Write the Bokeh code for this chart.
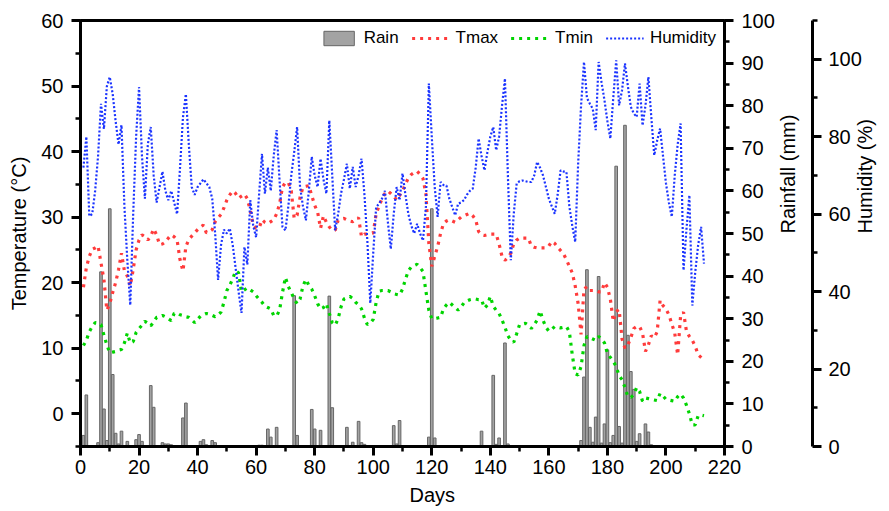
import math
from bokeh.plotting import figure
from bokeh.models import Range1d, LinearAxis, FixedTicker, Legend, LegendItem, Title
from bokeh.embed import file_html
from bokeh.resources import INLINE

# ---------------- data ----------------
days = list(range(1, 214))

tmax = [
    19.3, 22.3, 24.0, 25.1, 25.3, 25.6, 23.0, 20.5, 15.8, 16.8,
    18.5, 20.0, 22.0, 24.5, 21.8, 21.0, 19.5, 22.0, 25.0, 26.5,
    27.3, 27.0, 26.5, 27.1, 28.2, 27.3, 25.8, 25.9, 26.2, 26.8,
    27.3, 27.0, 26.5, 23.5, 21.8, 25.5, 26.6, 27.1, 27.6, 28.1,
    28.5, 28.8, 27.6, 27.8, 28.1, 29.3, 29.9, 30.4, 31.4, 32.6,
    33.4, 34.0, 33.6, 32.9, 33.2, 33.5, 32.8, 31.0, 28.8, 28.3,
    28.3, 29.6, 29.2, 29.0, 29.3, 29.6, 30.5, 32.0, 34.6, 35.3,
    35.3, 34.0, 29.8, 30.3, 33.0, 34.6, 34.7, 34.8, 33.3, 31.8,
    30.8, 28.3, 30.2, 29.2, 28.5, 28.0, 28.0, 29.5, 29.7, 29.8,
    29.6, 29.4, 29.3, 29.6, 29.9, 27.0, 27.4, 27.4, 27.5, 27.6,
    30.5, 31.7, 32.8, 33.6, 34.0, 33.6, 33.2, 32.6, 33.3, 34.0,
    35.0, 36.0, 36.5, 36.8, 37.0, 36.5, 35.9, 33.5, 26.0, 22.5,
    24.0, 25.5, 27.5, 29.0, 29.4, 29.6, 29.4, 29.2, 29.6, 30.0,
    30.2, 30.4, 30.6, 30.2, 29.6, 27.8, 27.3, 27.2, 27.3, 27.4,
    27.4, 27.4, 25.9, 24.0, 23.4, 23.8, 24.5, 25.9, 26.5, 26.8,
    26.8, 26.8, 26.8, 25.6, 25.4, 25.3, 25.3, 25.3, 25.3, 25.6,
    26.3, 26.0, 25.4, 24.9, 24.4, 23.5, 22.5, 21.5, 19.5, 16.8,
    12.1, 19.0, 19.4, 18.8, 18.8, 18.8, 18.6, 18.6, 20.0, 19.3,
    17.5, 14.1, 15.6, 15.9, 11.4, 10.0, 10.5, 11.6, 13.0, 13.3,
    13.3, 12.3, 9.5, 10.5, 11.9, 11.6, 12.5, 17.3, 16.5, 16.0,
    15.1, 13.7, 12.3, 9.0, 14.9, 15.5, 12.6, 11.8, 11.2, 10.3,
    9.0, 8.6, 8.2,
]

tmin = [
    10.4, 11.2, 12.5, 13.3, 13.9, 13.8, 13.6, 12.0, 10.5, 9.3,
    9.4, 9.5, 9.7, 9.8, 10.8, 12.3, 10.8, 11.0, 12.4, 13.0,
    13.5, 14.1, 13.8, 13.4, 14.0, 14.7, 14.8, 15.0, 14.8, 14.5,
    14.2, 15.3, 15.4, 15.1, 15.0, 14.8, 14.7, 14.3, 13.9, 14.4,
    14.9, 15.1, 15.3, 15.2, 15.0, 14.8, 15.1, 15.5, 17.0, 18.8,
    19.6, 20.6, 21.8, 21.5, 18.6, 18.9, 19.2, 18.9, 18.6, 18.0,
    17.5, 17.0, 16.4, 16.2, 16.0, 15.0, 14.9, 15.8, 18.5, 20.8,
    19.4, 18.5, 17.5, 16.8, 17.5, 19.5, 20.5, 19.6, 19.0, 18.0,
    16.8, 16.0, 16.2, 16.8, 15.3, 13.9, 13.5, 14.5, 16.3, 17.5,
    17.7, 17.9, 17.6, 17.0, 16.6, 16.0, 14.6, 13.6, 13.8, 14.4,
    17.0, 18.7, 18.8, 18.8, 18.8, 18.6, 18.3, 18.2, 18.1, 19.0,
    20.5, 21.8, 22.4, 22.6, 22.8, 22.3, 21.7, 18.7, 15.8, 14.5,
    14.5, 14.6, 14.7, 16.0, 16.6, 17.0, 16.6, 16.2, 15.8, 16.3,
    16.9, 17.2, 17.4, 17.5, 17.5, 17.4, 17.4, 16.1, 16.6, 17.9,
    16.4, 15.8, 15.3, 14.3, 13.2, 11.9, 11.2, 10.9, 12.2, 13.6,
    13.7, 13.8, 13.5, 13.0, 13.6, 14.3, 15.7, 14.3, 13.2, 12.6,
    12.9, 13.3, 13.2, 13.1, 13.2, 13.3, 12.5, 9.0, 6.1, 5.9,
    7.2, 10.4, 11.8, 11.6, 11.4, 11.2, 11.8, 11.4, 10.8, 9.2,
    8.6, 8.0, 7.2, 5.8, 5.2, 4.0, 2.6, 2.5, 2.9, 4.0,
    3.4, 1.9, 2.4, 2.3, 2.2, 2.1, 2.0, 3.1, 2.7, 2.2,
    2.1, 2.0, 1.9, 2.6, 3.0, 2.4, 1.3, 0.0, -1.7, -1.7,
    -0.3, -0.2, -0.3,
]

humidity = [
    72, 80, 59.5, 60, 66, 75, 88.5, 82, 93, 95.4,
    91, 84, 78, 83, 62, 48, 36.5, 60, 80, 92.8,
    75, 64, 78, 82.5, 70, 63, 67, 71, 66, 63.6,
    66, 63, 60, 72, 85, 91, 78, 67, 65, 67,
    68, 69, 68, 67, 64, 55, 43, 52, 56, 55,
    56.3, 52, 46, 40, 34.5, 51.5, 47, 63.6, 57, 54,
    65, 75.6, 65.3, 72, 66, 75, 81.7, 68.7, 56.7, 55.8,
    62, 70, 76, 82.5, 67, 62, 58.4, 66, 74.8, 70,
    67, 74.3, 69, 65.3, 84.2, 70, 55.8, 60, 65.3, 69,
    73, 66.6, 72.2, 67, 70, 74.3, 65, 53, 37, 50,
    61.8, 62.7, 64, 66, 58, 51, 60, 67, 63.6, 70.5,
    65, 60, 57, 55, 57.5, 55, 53.2, 62, 93.7, 80,
    67, 59.3, 68.3, 67.5, 67.4, 64, 61.8, 59.7, 62.7, 63,
    63.6, 65, 66, 66.6, 72, 79.5, 75, 71.3, 76, 80,
    82.5, 76.5, 80, 88, 95, 70, 48.1, 60, 67.9, 68.5,
    68.7, 68.5, 68.3, 68.3, 70, 73.5, 72, 70, 67, 64,
    62, 60.1, 65, 71.3, 71, 70.9, 62, 57, 52.8, 73,
    88, 99.3, 90, 88.5, 87.2, 81.7, 99.3, 94, 89.4, 84,
    79.5, 90, 99.7, 88.1, 92, 98.9, 93, 87.7, 86, 85.1,
    93.7, 82.9, 88, 95.4, 85, 75.2, 79, 82.1, 75, 68,
    63, 59.3, 70, 78, 83.4, 45.5, 56, 64.9, 36.4, 45,
    52, 56.7, 47.2,
]

rain_days = [1, 2, 6, 7, 8, 9, 10, 11, 12, 13, 14, 16, 19, 20, 21, 24, 25, 28, 29, 30,
             31, 35, 36, 41, 42, 43, 45, 46, 61, 62, 64, 65, 67, 73, 74, 79, 80, 82, 85, 86,
             91, 93, 95, 96, 97, 107, 108, 109, 119, 120, 121, 137, 141, 142, 143, 145, 146,
             171, 172, 173, 174, 175, 176, 177, 178, 179, 180, 181, 182, 183, 184, 185, 186,
             187, 188, 189, 190, 191, 193, 194, 195]
rain_mm = [2.6, 12.1, 0.9, 41.0, 8.8, 1.4, 55.8, 16.9, 3.1, 0.6, 3.6, 1.2, 1.6, 2.8, 1.2, 14.3, 9.2, 0.9, 0.6, 0.6,
           0.4, 6.7, 10.2, 1.2, 1.6, 0.4, 1.4, 0.9, 0.3, 0.3, 4.1, 2.2, 4.5, 35.4, 2.6, 8.7, 4.1, 3.8, 35.3, 9.1,
           4.5, 1.0, 5.9, 0.9, 0.5, 4.9, 0.6, 6.1, 2.2, 55.8, 2.0, 3.6, 16.7, 0.5, 2.0, 24.3, 0.6,
           1.4, 16.3, 41.5, 4.5, 1.0, 6.9, 39.9, 0.8, 5.3, 22.7, 0.9, 2.6, 65.8, 4.7, 0.8, 75.4,
           26.1, 17.6, 13.4, 1.2, 3.0, 5.3, 3.4, 0.4]

x_ticks = [0, 20, 40, 60, 80, 100, 120, 140, 160, 180, 200, 220]
temp_ticks = [0, 10, 20, 30, 40, 50, 60]
rain_ticks = [0, 10, 20, 30, 40, 50, 60, 70, 80, 90, 100]
hum_ticks = [0, 20, 40, 60, 80, 100]

FONT = "Liberation Sans"

# ---------------- figure ----------------
p = figure(width=889, height=511, x_range=Range1d(0, 220), y_range=Range1d(-5, 60),
           output_backend="svg", toolbar_location=None,
           min_border_left=80, min_border_right=160, min_border_top=20, min_border_bottom=65)
p.extra_y_ranges = {"rain": Range1d(0, 100), "hum": Range1d(0, 110)}
p.xgrid.visible = False
p.ygrid.visible = False
p.outline_line_color = "black"
p.outline_line_width = 3
p.background_fill_color = "white"
p.border_fill_color = "white"


def style_axis(ax, standoff=8):
    ax.axis_line_width = 3
    ax.axis_line_color = "black"
    ax.major_tick_line_width = 3
    ax.major_tick_line_color = "black"
    ax.major_tick_out = 9
    ax.major_tick_in = 0
    ax.minor_tick_line_width = 2.5
    ax.minor_tick_line_color = "black"
    ax.minor_tick_out = 5
    ax.minor_tick_in = 0
    ax.major_label_text_font = FONT
    ax.major_label_text_font_size = "20px"
    ax.major_label_text_color = "black"
    ax.major_label_standoff = standoff
    ax.axis_label_text_font = FONT
    ax.axis_label_text_font_size = "20px"
    ax.axis_label_text_font_style = "normal"
    ax.axis_label_text_color = "black"


xa = p.xaxis[0]
xa.ticker = FixedTicker(ticks=x_ticks, minor_ticks=[10, 30, 50, 70, 90, 110, 130, 150, 170, 190, 210])
style_axis(xa, standoff=4)

ya = p.yaxis[0]
ya.ticker = FixedTicker(ticks=temp_ticks, minor_ticks=[-5, 5, 15, 25, 35, 45, 55])
ya.axis_label = "Temperature (°C)"
style_axis(ya, standoff=8)
ya.axis_label_standoff = 8

rain_axis = LinearAxis(y_range_name="rain", axis_label="Rainfall (mm)")
rain_axis.ticker = FixedTicker(ticks=rain_ticks, minor_ticks=[5, 15, 25, 35, 45, 55, 65, 75, 85, 95])
style_axis(rain_axis, standoff=8)
rain_axis.axis_label_standoff = 10
rain_axis.axis_label_orientation = math.pi / 2
p.add_layout(rain_axis, "right")

hum_axis = LinearAxis(y_range_name="hum", axis_label="Humidity (%)")
hum_axis.ticker = FixedTicker(ticks=hum_ticks, minor_ticks=[10, 30, 50, 70, 90, 110])
style_axis(hum_axis, standoff=7)
hum_axis.axis_label_standoff = 0
hum_axis.axis_label_orientation = math.pi / 2
p.add_layout(hum_axis, "right")

p.add_layout(Title(text="Days", align="left", offset=329, text_font=FONT,
                   text_font_size="20px", text_font_style="normal", text_color="black",
                   standoff=11), "below")

# ---------------- glyphs ----------------
r_rain = p.vbar(x=rain_days, top=rain_mm, bottom=0, width=0.9, y_range_name="rain",
                fill_color="#A3A3A3", line_color="#666666", line_width=1)
r_tmax = p.line(days, tmax, line_color="#FF3B3B", line_width=3.2, line_dash="3 5")
r_tmin = p.line(days, tmin, line_color="#00D400", line_width=3.2, line_dash="3 5")
r_hum = p.line(days, humidity, y_range_name="hum", line_color="#1A33FF", line_width=2.2,
               line_dash="2 2")

legend = Legend(items=[LegendItem(label="Rain", renderers=[r_rain]),
                       LegendItem(label="Tmax", renderers=[r_tmax]),
                       LegendItem(label="Tmin", renderers=[r_tmin]),
                       LegendItem(label="Humidity", renderers=[r_hum])],
                orientation="horizontal", location="top_right",
                label_text_font=FONT, label_text_font_size="17px", label_text_color="black",
                glyph_width=38, glyph_height=18, label_standoff=6, spacing=13,
                padding=4, margin=4, border_line_alpha=0, background_fill_alpha=0)
p.add_layout(legend)

open("out.html", "w").write(file_html(p, INLINE))
